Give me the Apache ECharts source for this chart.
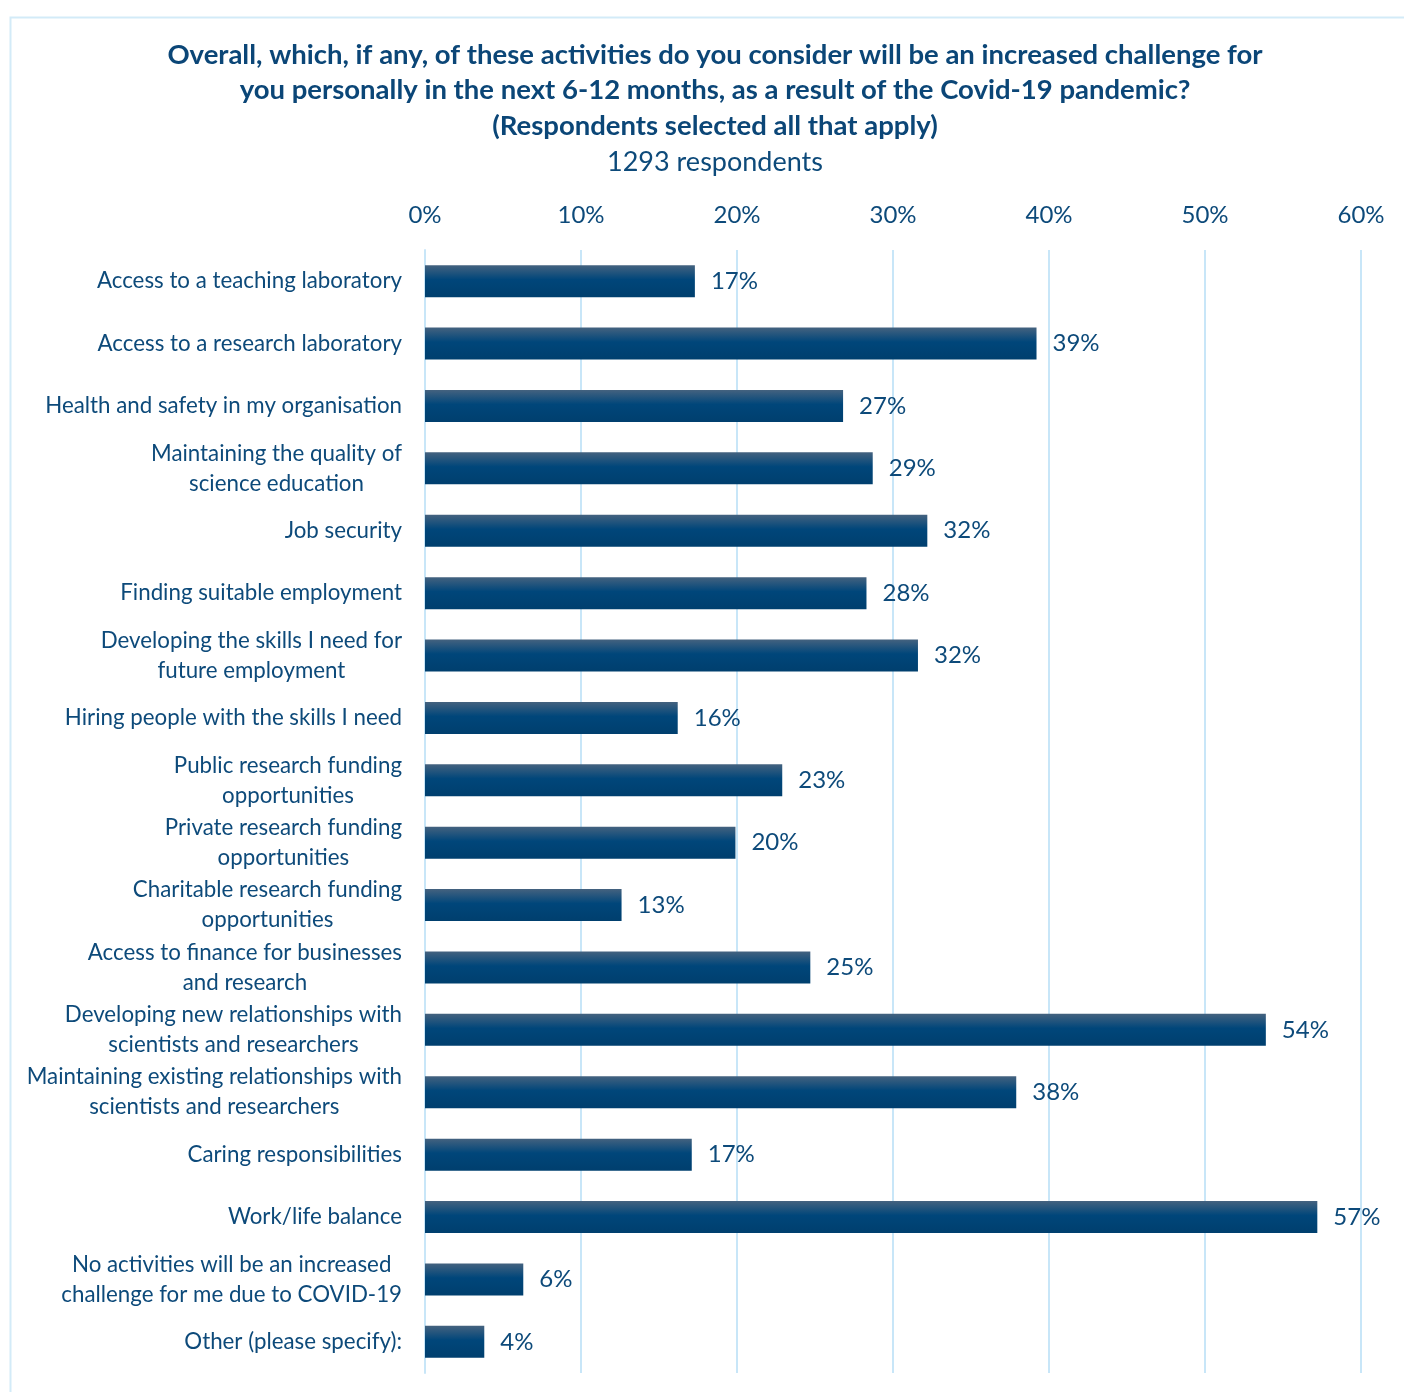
<!DOCTYPE html>
<html><head><meta charset="utf-8">
<script src="https://cdn.jsdelivr.net/npm/echarts@6/dist/echarts.min.js"></script>
<style>html,body{margin:0;padding:0;background:#fff}#c{width:1404px;height:1392px}</style>
</head><body><div id="c"></div>
<script>
const categories = [
  "Access to a teaching laboratory",
  "Access to a research laboratory",
  "Health and safety in my organisation",
  "Maintaining the quality of\nscience education",
  "Job security",
  "Finding suitable employment",
  "Developing the skills I need for\nfuture employment",
  "Hiring people with the skills I need",
  "Public research funding\nopportunities",
  "Private research funding\nopportunities",
  "Charitable research funding\nopportunities",
  "Access to finance for businesses\nand research",
  "Developing new relationships with\nscientists and researchers",
  "Maintaining existing relationships with\nscientists and researchers",
  "Caring responsibilities",
  "Work/life balance",
  "No activities will be an increased\nchallenge for me due to COVID-19",
  "Other (please specify):"
];
const values = [17.3, 39.2, 26.8, 28.7, 32.2, 28.3, 31.6, 16.2, 22.9, 19.9, 12.6, 24.7, 53.9, 37.9, 17.1, 57.2, 6.3, 3.8];
const axisTicks = [0, 10, 20, 30, 40, 50, 60];
const titleLines = [
  "Overall, which, if any, of these activities do you consider will be an increased challenge for",
  "you personally in the next 6-12 months, as a result of the Covid-19 pandemic?",
  "(Respondents selected all that apply)"
];
const subtitle = "1293 respondents";

const FONT = "Lato, 'Open Sans', sans-serif";
const TXT = "#0d4a7a";
const CAT_SIZE = 22.3;

const ctx = document.createElement('canvas').getContext('2d');
ctx.font = CAT_SIZE + "px Lato";
const catData = categories.map(c => {
  const w = Math.max(...c.split('\n').map(l => ctx.measureText(l).width));
  return { value: c, textStyle: { align: 'center', padding: [0, w, 0, 0] } };
});

const chart = echarts.init(document.getElementById('c'));
chart.setOption({
  animation: false,
  textStyle: { fontFamily: FONT },
  graphic: [{
    type: 'rect', left: 8, top: 15, z: -10,
    shape: { width: 1420, height: 1400 },
    style: { fill: 'none', stroke: '#d3ebf8', lineWidth: 2 }
  }],
  title: [{
    text: titleLines.join('\n'),
    left: 710, top: 32, textAlign: 'center',
    textStyle: { fontFamily: FONT, fontSize: 27.5, fontWeight: 'bold', color: '#0b4677', lineHeight: 35.5 }
  }, {
    text: subtitle,
    left: 710, top: 143, textAlign: 'center',
    textStyle: { fontFamily: FONT, fontSize: 27, fontWeight: 'normal', color: TXT, lineHeight: 28 }
  }],
  grid: { left: 425, right: 43, top: 250, bottom: 19, containLabel: false },
  xAxis: {
    type: 'value', position: 'top', min: 0, max: 60, interval: 10,
    axisLine: { show: false }, axisTick: { show: false },
    splitLine: { show: true, lineStyle: { color: '#c8e6f8', width: 2 } },
    axisLabel: { formatter: v => axisTicks.includes(v) ? v + '%' : '', fontSize: 24, color: TXT, margin: 23, fontFamily: FONT }
  },
  yAxis: {
    type: 'category', inverse: true, data: catData,
    axisLine: { show: true, lineStyle: { color: '#c8e6f8', width: 2 } },
    axisTick: { show: false },
    axisLabel: { fontSize: CAT_SIZE, color: TXT, margin: 23, lineHeight: 30, fontFamily: FONT }
  },
  series: [{
    type: 'bar', data: values, barWidth: 32,
    itemStyle: {
      color: new echarts.graphic.LinearGradient(0, 0, 0, 1, [
        { offset: 0, color: '#44627f' },
        { offset: 0.45, color: '#00467a' },
        { offset: 1, color: '#003f6e' }
      ])
    },
    label: {
      show: true, position: 'right', distance: 16,
      formatter: p => Math.round(p.value) + '%',
      fontSize: 24, color: TXT, fontFamily: FONT
    }
  }]
});
</script>
</body></html>
